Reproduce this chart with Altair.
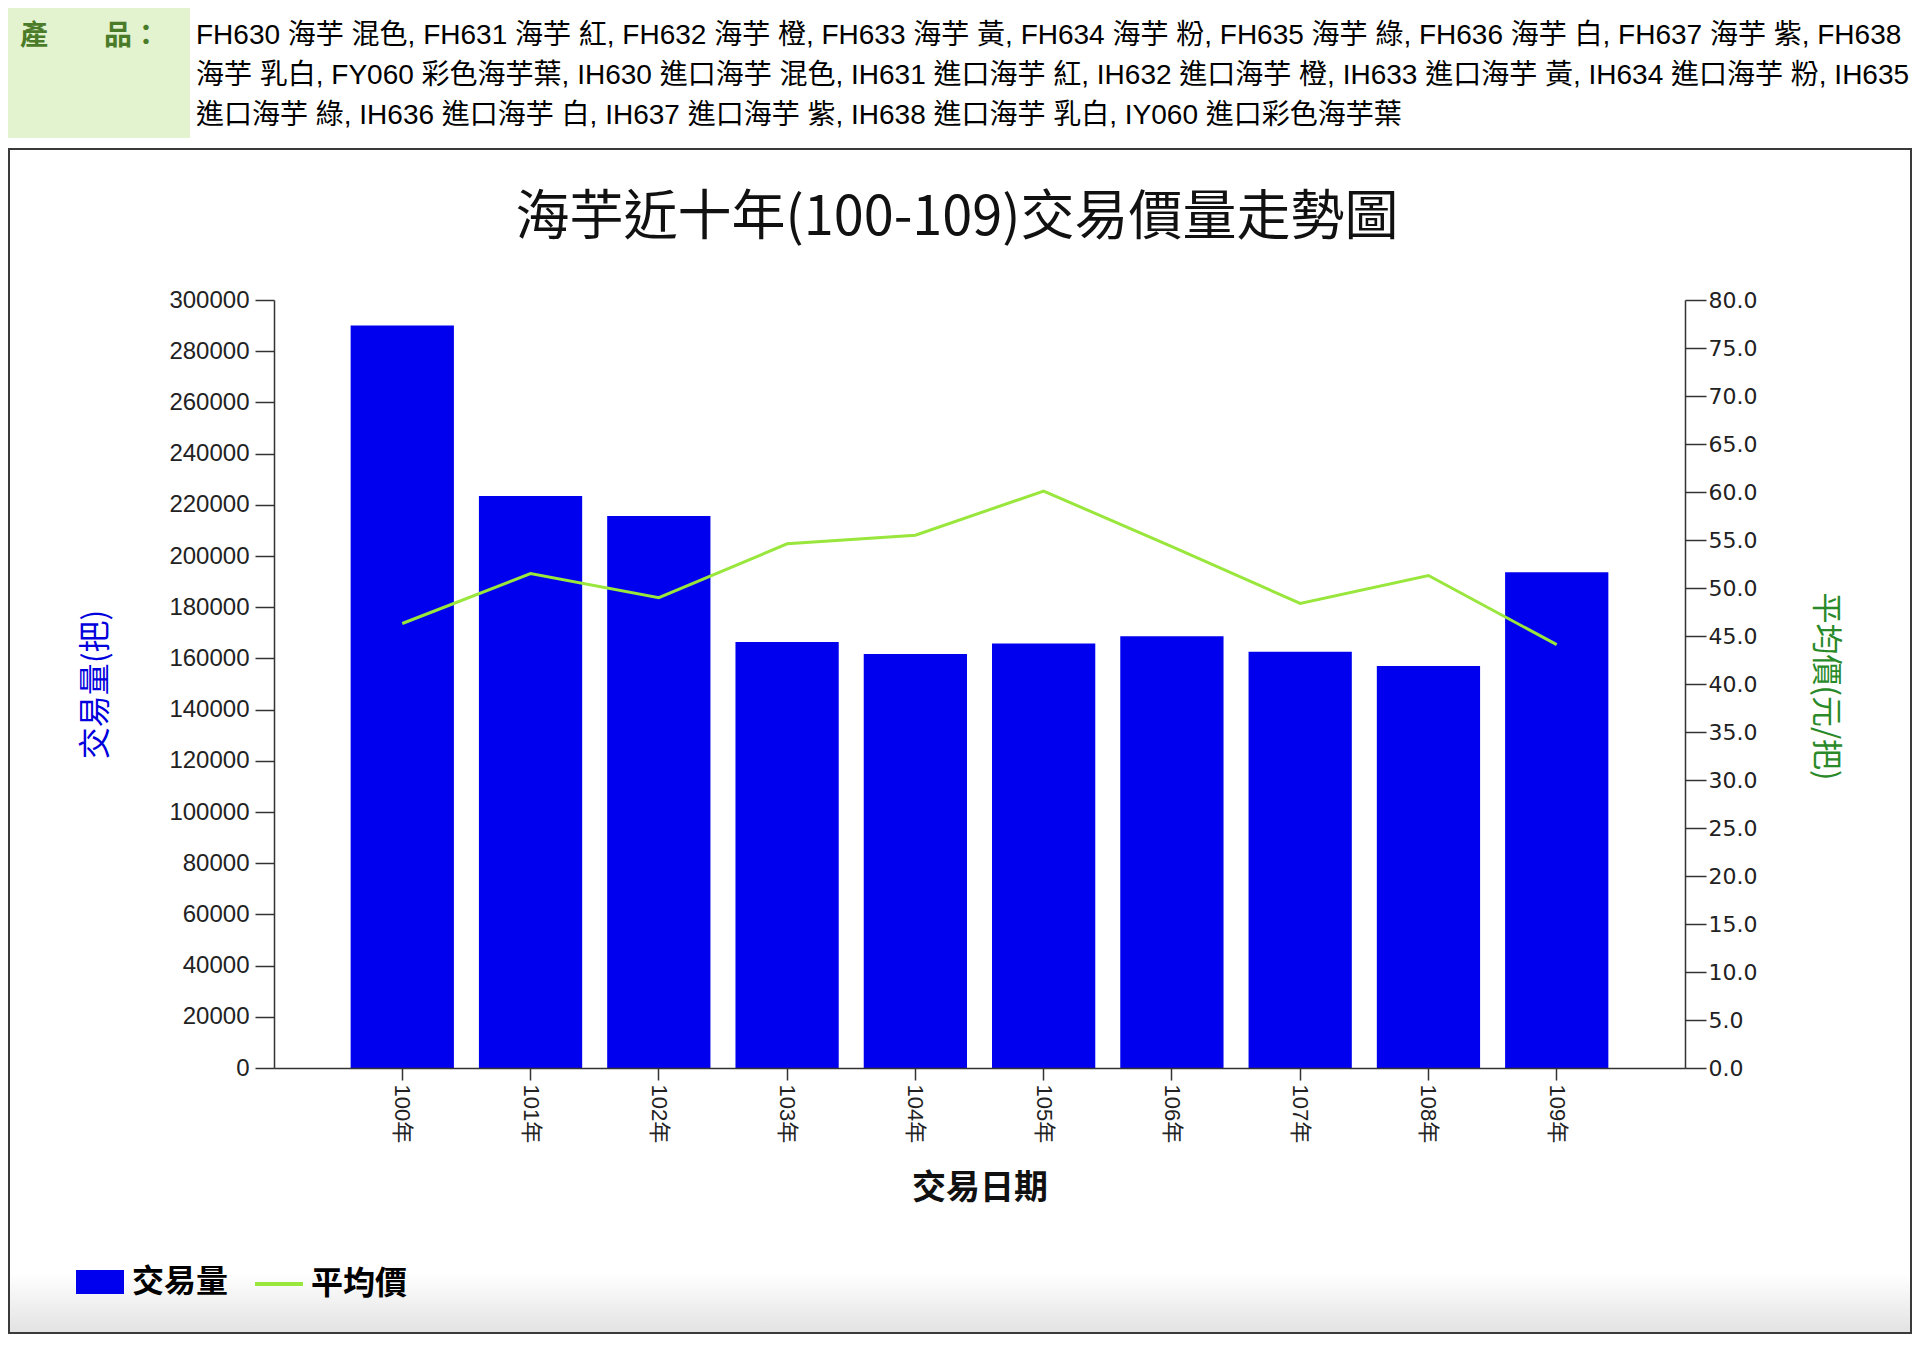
import altair as alt
import pandas as pd

# ---- data ----
years = ["100年", "101年", "102年", "103年", "104年", "105年", "106年", "107年", "108年", "109年"]
volume = [290000, 223400, 215600, 166400, 161700, 165800, 168700, 162600, 157000, 193700]
price = [46.3, 51.5, 49.0, 54.6, 55.5, 60.1, 54.3, 48.4, 51.3, 44.1]

title_text = "海芋近十年(100-109)交易價量走勢圖"
x_title = "交易日期"
y_left_title = "交易量(把)"
y_right_title = "平均價(元/把)"
legend_labels = ["交易量", "平均價"]
header_label = "產　　品："
header_lines = [
    "FH630 海芋 混色, FH631 海芋 紅, FH632 海芋 橙, FH633 海芋 黃, FH634 海芋 粉, FH635 海芋 綠, FH636 海芋 白, FH637 海芋 紫, FH638",
    "海芋 乳白, FY060 彩色海芋葉, IH630 進口海芋 混色, IH631 進口海芋 紅, IH632 進口海芋 橙, IH633 進口海芋 黃, IH634 進口海芋 粉, IH635",
    "進口海芋 綠, IH636 進口海芋 白, IH637 進口海芋 紫, IH638 進口海芋 乳白, IY060 進口彩色海芋葉",
]
y_left_ticks = list(range(0, 300001, 20000))
y_right_ticks = [v * 5 for v in range(17)]

BAR_COLOR = "#0000ee"
LINE_COLOR = "#99e63c"
CJK = "Noto Sans CJK TC"
SANS = "Liberation Sans, Noto Sans CJK TC"

df = pd.DataFrame({"year": years, "volume": volume, "price": price})
one = pd.DataFrame({"k": [0]})

W, H = 1411, 768

x_enc = alt.X(
    "year:N",
    sort=None,
    scale=alt.Scale(type="band", paddingInner=0.195, paddingOuter=0.5975),
    axis=alt.Axis(
        title=x_title, titleFont=CJK, titleFontSize=34, titleFontWeight="bold",
        titleColor="#111", titleY=120, titleBaseline="middle",
        labelAngle=90, labelFont=SANS, labelFontSize=22, labelColor="#222",
        labelPadding=4, tickSize=12, tickColor="#333", tickWidth=1.5,
        domainColor="#333", domainWidth=1.5, grid=False, zindex=1,
    ),
)

bars = alt.Chart(df).transform_calculate(series=f"'{legend_labels[0]}'").mark_bar().encode(
    x=x_enc,
    y=alt.Y(
        "volume:Q",
        scale=alt.Scale(domain=[0, 300000], nice=False),
        axis=alt.Axis(
            values=y_left_ticks, format="d", grid=False, zindex=1,
            title=y_left_title, titleFont=CJK, titleFontSize=32, titleFontWeight="normal",
            titleColor="#0000dd", titleX=-179, titleY=384, titleBaseline="middle",
            titleAlign="center", titleAngle=270,
            labelFont="Liberation Sans", labelFontSize=24, labelColor="#222", labelPadding=6,
            tickSize=19, tickColor="#333", tickWidth=1.5, domainColor="#333", domainWidth=1.5,
        ),
    ),
    fill=alt.Fill(
        "series:N",
        scale=alt.Scale(domain=[legend_labels[0]], range=[BAR_COLOR]),
        legend=alt.Legend(
            orient="none", legendX=-198, legendY=958, title=None, padding=0,
            symbolType="M-1,-0.5H1V0.5H-1Z", symbolSize=2304, symbolStrokeWidth=0,
            labelFont=CJK, labelFontSize=32, labelFontWeight="bold", labelColor="#000",
            labelOffset=8,
        ),
    ),
)

line = alt.Chart(df).transform_calculate(series2=f"'{legend_labels[1]}'").mark_line(strokeWidth=3).encode(
    x=x_enc,
    y=alt.Y(
        "price:Q",
        scale=alt.Scale(domain=[0, 80], nice=False),
        axis=alt.Axis(
            orient="right", values=y_right_ticks, format=".1f", grid=False, zindex=1,
            title=y_right_title, titleFont=CJK, titleFontSize=31, titleFontWeight="normal",
            titleColor="#2a8a2a", titleX=139, titleY=386, titleBaseline="middle",
            titleAlign="center", titleAngle=90,
            labelFont="DejaVu Sans", labelFontSize=22, labelColor="#222", labelPadding=2,
            tickSize=21, tickColor="#333", tickWidth=1.5, domainColor="#333", domainWidth=1.5,
        ),
    ),
    stroke=alt.Stroke(
        "series2:N",
        scale=alt.Scale(domain=[legend_labels[1]], range=[LINE_COLOR]),
        legend=alt.Legend(
            orient="none", legendX=-21, legendY=958, title=None, padding=0,
            symbolType="stroke", symbolSize=2304, symbolStrokeWidth=4,
            labelFont=CJK, labelFontSize=32, labelFontWeight="bold", labelColor="#000",
            labelOffset=6,
        ),
    ),
)

# ---- page decorations (frame, header row, chart title) ----
frame = alt.Chart(one).mark_rect(
    fill=alt.LinearGradient(
        gradient="linear", x1=0, y1=0, x2=0, y2=1,
        stops=[
            alt.GradientStop(offset=0, color="#ffffff"),
            alt.GradientStop(offset=0.95, color="#ffffff"),
            alt.GradientStop(offset=1, color="#e2e2e2"),
        ],
    ),
    stroke="#3a3a3a", strokeWidth=2,
).encode(x=alt.value(-265), x2=alt.value(1637), y=alt.value(-151), y2=alt.value(1033))

header_bg = alt.Chart(one).mark_rect(fill="#e3f2cf").encode(
    x=alt.value(-266), x2=alt.value(-84), y=alt.value(-292), y2=alt.value(-162)
)

header_lbl = alt.Chart(one).mark_text(
    text=header_label, font=CJK, fontSize=28, fontWeight="bold", color="#4a7b28",
    align="left", baseline="alphabetic",
).encode(x=alt.value(-254), y=alt.value(-255))

header_txt = alt.Chart(one).mark_text(
    text=header_lines, font=SANS, fontSize=28, color="#000", lineHeight=40,
    align="left", baseline="alphabetic",
).encode(x=alt.value(-78), y=alt.value(-256))

title = alt.Chart(one).mark_text(
    text=title_text, font=CJK, fontSize=54, color="#111",
    align="center", baseline="alphabetic",
).encode(x=alt.value(683), y=alt.value(-65))

chart = alt.layer(
    frame, header_bg, header_lbl, header_txt, title, bars, line
).resolve_scale(
    y="independent"
).properties(
    width=W, height=H,
    autosize=alt.AutoSizeParams(type="none"),
    padding={"left": 266, "top": 292, "right": 227, "bottom": 266},
    background="#ffffff",
).configure_view(strokeWidth=0)

chart.save("out.html", embed_options={"renderer": "svg", "actions": False})
